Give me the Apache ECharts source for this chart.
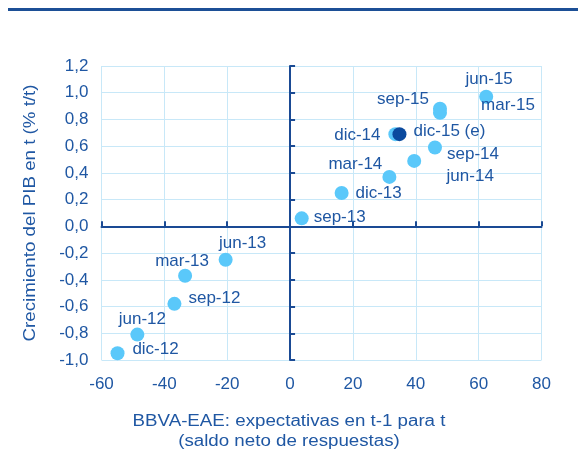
<!DOCTYPE html>
<html>
<head>
<meta charset="utf-8">
<script src="https://cdn.jsdelivr.net/npm/echarts@6/dist/echarts.min.js"></script>
<style>html,body{margin:0;padding:0;background:#fff}#c{width:586px;height:464px}</style>
</head>
<body>
<div id="c"></div>
<script>
// Data
const names = ['dic-12','jun-12','sep-12','mar-13','jun-13','sep-13','dic-13','mar-14','jun-14','sep-14','dic-14','mar-15','sep-15','jun-15'];
const xVals = [-54.9,-48.6,-36.8,-33.4,-20.5,3.7,16.4,31.6,39.5,46.1,33.5,47.7,47.7,62.4];
const yVals = [-0.95,-0.81,-0.58,-0.37,-0.25,0.06,0.25,0.37,0.49,0.59,0.69,0.85,0.88,0.97];
const estName = ['dic-15 (e)'];
const estX = [34.8];
const estY = [0.69];
const xTicks = {min:-60, max:80, step:20};
const yTicks = {min:-1.0, max:1.2, step:0.2};
const yTitle = 'Crecimiento del PIB en t (% t/t)';
const xTitle1 = 'BBVA-EAE: expectativas en t-1 para t';
const xTitle2 = '(saldo neto de respuestas)';

// Label placement (style)
const labelOffsets = {
  'jun-15':[3,-17],'sep-15':[-37,-9],'mar-15':[68,-7],'dic-14':[-38,1],'dic-15 (e)':[50,-3],
  'sep-14':[38,7],'jun-14':[56,15],'mar-14':[-34,-13],'dic-13':[37,0],'sep-13':[38,-1],
  'jun-13':[17,-16],'mar-13':[-3,-14],'sep-12':[40,-6],'jun-12':[5,-15],'dic-12':[38,-4]
};

const TXT = '#1f57a3';
const AX = '#1a4a94';
const GRID = '#c8e8f8';
const FONT = '"Liberation Sans", Arial, sans-serif';
const FS = 17;

function mk(nm, xs, ys) {
  return nm.map((n,i)=>({name:n, value:[xs[i], ys[i]],
    label:{offset: labelOffsets[n] || [0,0]}}));
}

const chart = echarts.init(document.getElementById('c'), null, {renderer:'canvas'});
const lbl = {show:true, position:'inside', formatter:'{b}', color:TXT, fontSize:FS, fontFamily:FONT, align:'center', verticalAlign:'middle'};
chart.setOption({
  animation:false,
  backgroundColor:'#fff',
  grid:{left:101.5, right:44.5, top:66, bottom:104, containLabel:false},
  xAxis:[
    {type:'value', min:xTicks.min, max:xTicks.max, interval:xTicks.step, position:'bottom',
     axisLine:{show:false}, axisTick:{show:false},
     axisLabel:{color:TXT, fontSize:FS, fontFamily:FONT, margin:16},
     splitLine:{show:true, lineStyle:{color:GRID, width:1}}},
    {type:'value', min:xTicks.min, max:xTicks.max, interval:xTicks.step,
     axisLine:{show:true, onZero:true, lineStyle:{color:AX, width:2}},
     axisTick:{show:true, length:5, lineStyle:{color:AX, width:2}},
     axisLabel:{show:false}, splitLine:{show:false}}
  ],
  yAxis:[
    {type:'value', min:yTicks.min, max:yTicks.max, interval:yTicks.step, position:'left',
     axisLine:{show:false}, axisTick:{show:false},
     axisLabel:{color:TXT, fontSize:FS, fontFamily:FONT, margin:13,
       formatter:v=>v.toFixed(1).replace('.',',').replace('-0,0','0,0')},
     splitLine:{show:true, lineStyle:{color:GRID, width:1}}},
    {type:'value', min:yTicks.min, max:yTicks.max, interval:yTicks.step,
     axisLine:{show:true, onZero:true, onZeroAxisIndex:0, lineStyle:{color:AX, width:2}},
     axisTick:{show:true, length:5, lineStyle:{color:AX, width:2}},
     axisLabel:{show:false}, splitLine:{show:false}}
  ],
  series:[
    {type:'scatter', xAxisIndex:0, yAxisIndex:0, symbolSize:14,
     itemStyle:{color:'#5ac8fa', opacity:1}, label:lbl, data:mk(names,xVals,yVals), z:3},
    {type:'scatter', xAxisIndex:0, yAxisIndex:0, symbolSize:14,
     itemStyle:{color:'#0b4a9e', opacity:1}, label:lbl, data:mk(estName,estX,estY), z:4}
  ],
  graphic:[
    {type:'rect', shape:{x:8, y:8, width:570, height:3}, style:{fill:'#1c4f96'}},
    {type:'text', x:31, y:213, rotation:Math.PI/2, scaleX:1.17,
     style:{text:yTitle, fill:TXT, font:'16px '+FONT, textAlign:'center', textVerticalAlign:'middle'}},
    {type:'text', x:289, y:422, scaleX:1.17,
     style:{text:xTitle1, fill:TXT, font:'16px '+FONT, textAlign:'center', textVerticalAlign:'middle'}},
    {type:'text', x:289, y:442, scaleX:1.17,
     style:{text:xTitle2, fill:TXT, font:'16px '+FONT, textAlign:'center', textVerticalAlign:'middle'}}
  ]
});
</script>
</body>
</html>
